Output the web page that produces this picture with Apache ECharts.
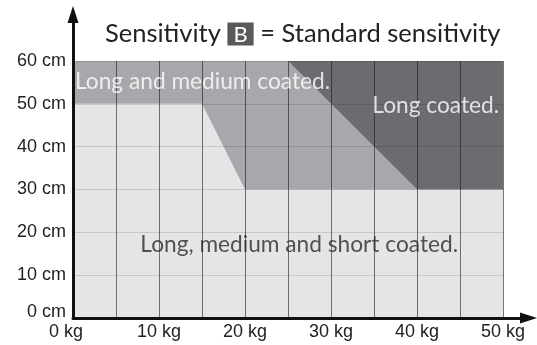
<!DOCTYPE html>
<html>
<head>
<meta charset="utf-8">
<script src="https://cdn.jsdelivr.net/npm/echarts@6/dist/echarts.min.js"></script>
<style>
  html, body { margin: 0; padding: 0; background: #fff; }
  #chart { width: 537px; height: 345px; }
</style>
</head>
<body>
<div id="chart"></div>
<script>
// Coat-length zones by dog weight (kg) and height (cm)
const weightRange = [0, 50];
const heightRange = [0, 60];
const weightStep = 5;
const heightStep = 10;
const weightLabelStep = 10;

// Zone outlines as [kg, cm] vertices
const zoneAll = [[0, 0], [0, 50], [15, 50], [20, 30], [50, 30], [50, 0]];
const zoneLongMedium = [[0, 50], [0, 60], [25, 60], [40, 30], [20, 30], [15, 50]];
const zoneLong = [[25, 60], [50, 60], [50, 30], [40, 30]];

const zoneNames = ['Long, medium and short coated.', 'Long and medium coated.', 'Long coated.'];
const zoneColors = ['#e4e5e7', '#a7a8ab', '#6b6c70'];
const zoneTextColors = ['#2a2a2a', '#ffffff', '#ffffff'];
// Where each zone caption is anchored, in [kg, cm]
const captionAnchors = [[26.3, 17.2], [0, 55.2], [50, 49.6]];
const captionPlacement = ['inside', 'right', 'left'];

const zones = [zoneAll, zoneLongMedium, zoneLong];

const chart = echarts.init(document.getElementById('chart'), null, { renderer: 'canvas' });

const labelFont = '"Liberation Sans", Arial, sans-serif';
const textFont = 'Lato, "Open Sans", sans-serif';

const option = {
  animation: false,
  backgroundColor: '#ffffff',
  title: {
    text: '{t|Sensitivity }{b|B}{t| = Standard sensitivity}',
    left: 105,
    top: 21,
    padding: 0,
    textStyle: {
      fontWeight: 'normal',
      rich: {
        t: { fontFamily: textFont, fontSize: 25.5, fontWeight: 'normal', color: '#222222' },
        b: {
          fontFamily: textFont, fontSize: 22, fontWeight: 'normal', color: '#ffffff',
          backgroundColor: '#58595b', padding: [1, 6, 0, 6], lineHeight: 19
        }
      }
    }
  },
  grid: [
    { left: 73, right: 34, top: 61, bottom: 27 },
    { left: 73, right: 8.5, top: 14.5, bottom: 27 }
  ],
  xAxis: [
    {
      gridIndex: 0, type: 'value', min: weightRange[0], max: weightRange[1], interval: weightStep,
      z: 3,
      axisLine: { show: false }, axisTick: { show: false },
      axisLabel: {
        margin: 5, fontFamily: labelFont, fontSize: 18, color: '#222222',
        formatter: v => {
          if (v % weightLabelStep !== 0) return '';
          return v === 0 ? '{first|' + v + ' kg}' : v + ' kg';
        },
        rich: { first: { fontFamily: labelFont, fontSize: 18, color: '#222222', padding: [0, 14, 0, 0] } }
      },
      splitLine: { show: true, lineStyle: { color: 'rgba(25,25,25,0.6)', width: 1 } }
    },
    {
      gridIndex: 1, type: 'value', min: 0, max: 1, z: 6,
      axisLine: { show: true, symbol: ['none', 'triangle'], symbolSize: [11, 17],
        lineStyle: { color: '#111111', width: 3 } },
      axisTick: { show: false }, axisLabel: { show: false }, splitLine: { show: false }
    }
  ],
  yAxis: [
    {
      gridIndex: 0, type: 'value', min: heightRange[0], max: heightRange[1], interval: heightStep,
      z: 3,
      axisLine: { show: false }, axisTick: { show: false },
      axisLabel: {
        margin: 7, fontFamily: labelFont, fontSize: 18, color: '#222222',
        formatter: v => v === 0 ? '{first|' + v + ' cm}' : v + ' cm',
        rich: { first: { fontFamily: labelFont, fontSize: 18, color: '#222222', padding: [0, 0, 12, 0] } }
      },
      splitLine: { show: true, lineStyle: { color: 'rgba(0,0,0,0.13)', width: 1 } }
    },
    {
      gridIndex: 1, type: 'value', min: 0, max: 1, z: 6,
      axisLine: { show: true, symbol: ['none', 'triangle'], symbolSize: [11, 17],
        lineStyle: { color: '#111111', width: 3 } },
      axisTick: { show: false }, axisLabel: { show: false }, splitLine: { show: false }
    }
  ],
  series: [
    {
      type: 'custom',
      xAxisIndex: 0, yAxisIndex: 0,
      z: 1,
      data: zones.map((_, i) => [i]),
      renderItem: (params, api) => {
        const i = api.value(0);
        return {
          type: 'polygon',
          shape: { points: zones[i].map(p => api.coord(p)) },
          style: { fill: zoneColors[i], stroke: null }
        };
      },
      silent: true
    },
    {
      type: 'scatter',
      xAxisIndex: 0, yAxisIndex: 0,
      z: 5,
      symbolSize: 0,
      silent: true,
      data: zoneNames.map((name, i) => ({
        name: name,
        value: captionAnchors[i],
        label: {
          show: true,
          position: captionPlacement[i],
          distance: captionPlacement[i] === 'left' ? 4 : 2,
          formatter: '{b}',
          fontFamily: textFont,
          fontSize: 22.7,
          color: zoneTextColors[i]
        }
      }))
    }
  ]
};

chart.setOption(option);
</script>
</body>
</html>
